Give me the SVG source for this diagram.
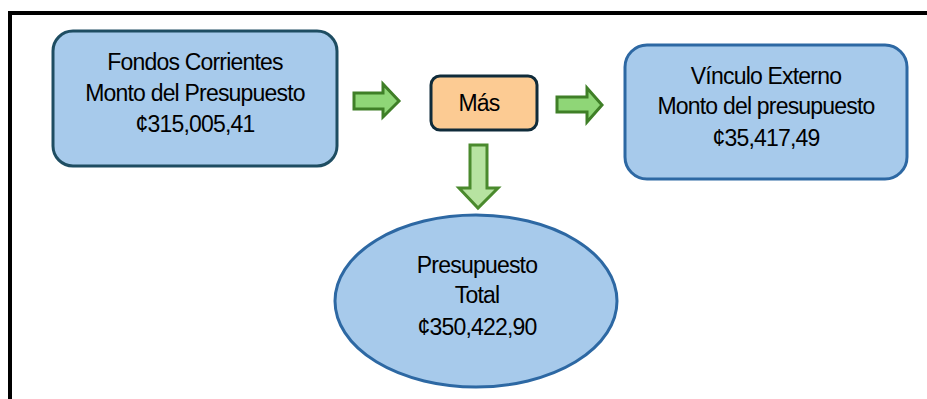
<svg xmlns="http://www.w3.org/2000/svg" width="927" height="399" viewBox="0 0 927 399">
<style>
.t{font-family:"Liberation Sans",Arial,sans-serif;font-size:23px;fill:#000;text-anchor:middle;letter-spacing:-0.8px}
.box{fill:#a7caeb;stroke-width:3}
.arr{stroke-width:3;stroke-linejoin:miter}
</style>
<rect width="927" height="399" fill="#fff"/>
<path d="M10 399 V13 H927" fill="none" stroke="#000" stroke-width="4"/>
<g id="connectors">
<polygon class="arr" points="354,93 383,93 383,84 399,101 383,117 383,109 354,109" fill="#8fd677" stroke="#3f7f27"/>
<polygon class="arr" points="557,97 587,97 587,88 602,105 587,122 587,112 557,112" fill="#8fd677" stroke="#3f7f27"/>
<polygon class="arr" points="470,145 487,145 487,188 498,188 478,208 459,188 470,188" fill="#b7e3a1" stroke="#4a8a2d"/>
</g>
<g id="fondos">
<rect class="box" x="53" y="31" width="284" height="135" rx="20" stroke="#1e4d62"/>
<text class="t" x="195" y="70">Fondos Corrientes</text>
<text class="t" x="195" y="101">Monto del Presupuesto</text>
<text class="t" x="195" y="132">¢315,005,41</text>
</g>
<g id="mas">
<rect x="431" y="76" width="106" height="54" rx="9" fill="#fccb93" stroke="#0f2b3a" stroke-width="3"/>
<text class="t" x="479" y="111">Más</text>
</g>
<g id="vinculo">
<rect class="box" x="625" y="45" width="282" height="134" rx="22" stroke="#2d68a3"/>
<text class="t" x="766" y="84">Vínculo Externo</text>
<text class="t" x="766" y="114">Monto del presupuesto</text>
<text class="t" x="766" y="146">¢35,417,49</text>
</g>
<g id="total">
<ellipse class="box" cx="476" cy="301" rx="141" ry="86" stroke="#2d68a3"/>
<text class="t" x="477" y="273">Presupuesto</text>
<text class="t" x="477" y="303">Total</text>
<text class="t" x="477" y="335">¢350,422,90</text>
</g>
</svg>
